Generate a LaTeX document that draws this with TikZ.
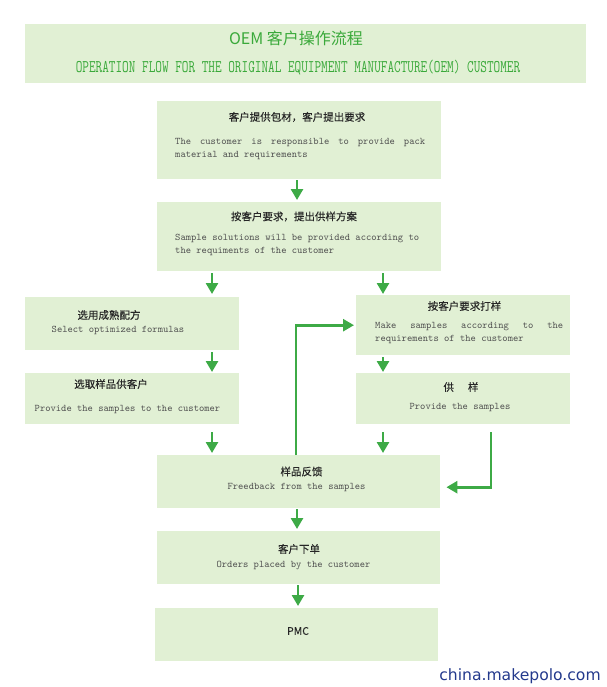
\documentclass[tikz,border=0pt]{standalone}
\usepackage{fontspec}
\newfontfamily\cjk{Noto Sans CJK SC}
\newfontfamily\cjkmid[FakeBold=0.3]{Noto Sans CJK SC}
\newfontfamily\webfont{DejaVu Sans}
\usetikzlibrary{arrows.meta}

\definecolor{boxgreen}{HTML}{E1F0D4}
\definecolor{arrowgreen}{HTML}{3DAA46}
\definecolor{titlegreen}{HTML}{3AA93A}
\definecolor{textgray}{HTML}{4F4F4F}
\definecolor{webblue}{HTML}{23398C}

% a line stretched to a given width
\newcommand\fitline[2]{\hbox to #1{\spaceskip=0.525em plus 1fil\relax #2}}

\begin{document}
\begin{tikzpicture}[x=1pt, y=-1pt,
    box/.style={fill=boxgreen, inner sep=0pt, anchor=north west},
    zh/.style={font=\cjkmid\fontsize{10.5}{12}\selectfont, text=black!85, inner sep=0pt},
    en/.style={font=\ttfamily\fontsize{10.1}{13}\selectfont, text=textgray, inner sep=0pt, align=left},
    flow/.style={draw=arrowgreen, line width=2.6pt, -{Triangle[width=12pt,length=11pt]}}]
  \useasboundingbox (0,0) rectangle (606,687);

  % 标题
  \node[box, minimum width=561pt, minimum height=59pt] (head) at (25,24) {};
  \node[font=\cjk\fontsize{16}{18}\selectfont, text=titlegreen, inner sep=0pt] (headzh) at (296,38) {OEM 客户操作流程};
  \node[font=\ttfamily\fontsize{15.9}{18}\selectfont, text=titlegreen, inner sep=0pt] (headen) at (298,68)
    {\scalebox{0.81}[1.12]{OPERATION FLOW FOR THE ORIGINAL EQUIPMENT MANUFACTURE(OEM) CUSTOMER}};

  % 各步骤方框
  \node[box, minimum width=284pt, minimum height=78pt] (b1) at (157,101) {};
  \node[zh] (b1zh) at (297,117) {客户提供包材，客户提出要求};
  \node[en, anchor=west] (b1en) at (175,149.4)
    {\fitline{250pt}{The customer is responsible to provide pack}\\material and requirements};

  \node[box, minimum width=284pt, minimum height=69pt] (b2) at (157,202) {};
  \node[zh] (b2zh) at (294,216.5) {按客户要求，提出供样方案};
  \node[en, anchor=west] (b2en) at (175,244.7)
    {Sample solutions will be provided according to\\the requiments of the customer};

  \node[box, minimum width=214pt, minimum height=53pt] (b3) at (25,297) {};
  \node[zh] (b3zh) at (109,315) {选用成熟配方};
  \node[en] (b3en) at (118,330) {Select optimized formulas};

  \node[box, minimum width=214pt, minimum height=51pt] (b4) at (25,373) {};
  \node[zh] (b4zh) at (111,384) {选取样品供客户};
  \node[en] (b4en) at (127.5,410) {Provide the samples to the customer};

  \node[box, minimum width=214pt, minimum height=60pt] (b5) at (356,295) {};
  \node[zh] (b5zh) at (464.5,306) {按客户要求打样};
  \node[en, anchor=west] (b5en) at (375,333.3)
    {\fitline{188pt}{Make samples according to the}\\requirements of the customer};

  \node[box, minimum width=214pt, minimum height=51pt] (b6) at (356,373) {};
  \node[zh] (b6zh) at (461,387) {供\hspace{14pt}样};
  \node[en] (b6en) at (460,408) {Provide the samples};

  \node[box, minimum width=283pt, minimum height=53pt] (b7) at (157,455) {};
  \node[zh] (b7zh) at (301.5,471.5) {样品反馈};
  \node[en] (b7en) at (296.5,487.5) {Freedback from the samples};

  \node[box, minimum width=283pt, minimum height=53pt] (b8) at (157,531) {};
  \node[zh] (b8zh) at (299,549) {客户下单};
  \node[en] (b8en) at (293.5,565.5) {Orders placed by the customer};

  \node[box, minimum width=283pt, minimum height=53pt] (b9) at (155,608) {};
  \node[zh] (b9zh) at (298,631) {PMC};

  % 箭头所在的列
  \coordinate (colL) at (212,0);
  \coordinate (colM) at (297,0);
  \coordinate (colN) at (296,0);
  \coordinate (colR) at (383,0);
  \coordinate (colF) at (491,0);

  % 箭头
  \draw[flow, shorten <=1pt, shorten >=2pt] (b1.south -| colM) -- (b2.north -| colM);
  \draw[flow, shorten <=2pt, shorten >=3pt] (b2.south -| colL) -- (b3.north -| colL);
  \draw[flow, shorten <=2pt, shorten >=1pt] (b2.south -| colR) -- (b5.north -| colR);
  \draw[flow, shorten <=2pt, shorten >=1pt] (b3.south -| colL) -- (b4.north -| colL);
  \draw[flow, shorten <=2pt, shorten >=1pt] (b5.south -| colR) -- (b6.north -| colR);
  \draw[flow, shorten <=8pt, shorten >=2pt] (b4.south -| colL) -- (b7.north -| colL);
  \draw[flow, shorten <=8pt, shorten >=2pt] (b6.south -| colR) -- (b7.north -| colR);
  \draw[flow, shorten >=2pt] (b7.north -| colN) |- (b5.west);
  \draw[flow, shorten <=8pt, shorten >=6pt] (b6.south -| colF) |- ([yshift=-5.5pt]b7.east);
  \draw[flow, shorten <=1pt, shorten >=2pt] (b7.south -| colM) -- (b8.north -| colM);
  \draw[flow, shorten <=1pt, shorten >=2pt] (b8.south -| 298,0) -- (b9.north -| 298,0);

  % 网址
  \node[font=\webfont\fontsize{15.6}{17}\selectfont, text=webblue, inner sep=0pt] (site) at (520,676) {china.makepolo.com};
\end{tikzpicture}
\end{document}
